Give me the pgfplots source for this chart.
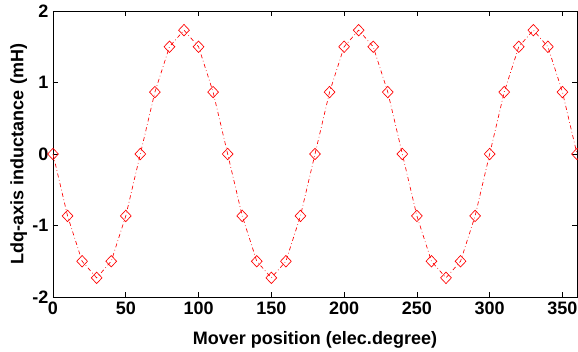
\documentclass[border=0pt]{standalone}
\usepackage{pgfplots}
\pgfplotsset{compat=1.18}
\usepackage{fontspec}
\setmainfont{Liberation Sans}
\begin{document}
\begin{tikzpicture}[x=0.75pt,y=0.75pt]
\begin{axis}[name=ax,
  scale only axis, width=524*0.75pt, height=286*0.75pt,
  at={(0,0)}, anchor=south west,
  xmin=0, xmax=360, ymin=-2, ymax=2,
  xtick={0,50,...,350}, ytick={-2,-1,0,1,2},
  tick align=inside, major tick length=5*0.75pt,
  tick style={black, line width=0.5pt},
  axis line style={line width=0.6pt},
  tick label style={font=\fontsize{13.5}{14}\selectfont\bfseries},
  /pgf/number format/assume math mode=true,
  xlabel={Mover position (elec.degree)},
  ylabel={Ldq-axis inductance (mH)},
  label style={font=\fontsize{13.5}{14}\selectfont\bfseries},
  xlabel style={yshift=-5.5pt},
  ylabel style={yshift=-3pt},
  clip=false,
]
\addplot[red, line width=0.5pt, dash dot, mark=diamond, mark size=4.3pt,
  mark options={solid, xscale=1.25, fill=white}] coordinates {
(0,0) (10,-0.866) (20,-1.5) (30,-1.732) (40,-1.5) (50,-0.866)
(60,0) (70,0.866) (80,1.5) (90,1.732) (100,1.5) (110,0.866)
(120,0) (130,-0.866) (140,-1.5) (150,-1.732) (160,-1.5) (170,-0.866)
(180,0) (190,0.866) (200,1.5) (210,1.732) (220,1.5) (230,0.866)
(240,0) (250,-0.866) (260,-1.5) (270,-1.732) (280,-1.5) (290,-0.866)
(300,0) (310,0.866) (320,1.5) (330,1.732) (340,1.5) (350,0.866)
(360,0)
};
\end{axis}
\pgfresetboundingbox
\path[use as bounding box] (-53,-54) rectangle (525,297);
\end{tikzpicture}
\end{document}
